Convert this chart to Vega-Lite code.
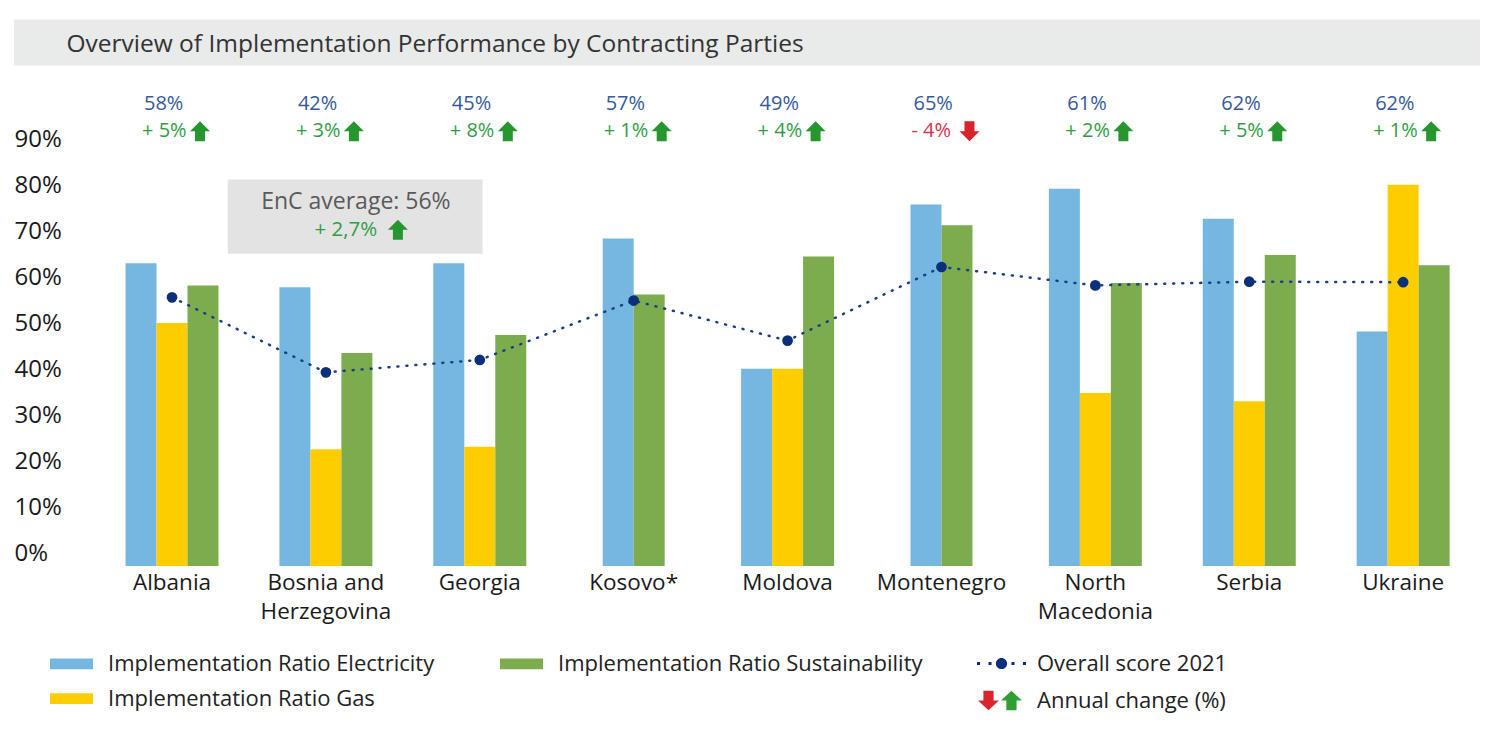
{
  "$schema": "https://vega.github.io/schema/vega-lite/v6.json",
  "width": 1466,
  "height": 414,
  "autosize": {"type": "none"},
  "padding": {"left": 14, "top": 152, "right": 24, "bottom": 168},
  "background": "white",
  "config": {
    "font": "Open Sans",
    "view": {"stroke": null},
    "text": {"font": "Open Sans"}
  },
  "datasets": {
    "bars": [
      {"country": "Albania", "series": "Implementation Ratio Electricity", "value": 65.8},
      {"country": "Albania", "series": "Implementation Ratio Gas", "value": 52.8},
      {"country": "Albania", "series": "Implementation Ratio Sustainability", "value": 61.0},
      {"country": "Bosnia and Herzegovina", "series": "Implementation Ratio Electricity", "value": 60.6},
      {"country": "Bosnia and Herzegovina", "series": "Implementation Ratio Gas", "value": 25.4},
      {"country": "Bosnia and Herzegovina", "series": "Implementation Ratio Sustainability", "value": 46.3},
      {"country": "Georgia", "series": "Implementation Ratio Electricity", "value": 65.8},
      {"country": "Georgia", "series": "Implementation Ratio Gas", "value": 25.9},
      {"country": "Georgia", "series": "Implementation Ratio Sustainability", "value": 50.2},
      {"country": "Kosovo*", "series": "Implementation Ratio Electricity", "value": 71.2},
      {"country": "Kosovo*", "series": "Implementation Ratio Sustainability", "value": 59.0},
      {"country": "Moldova", "series": "Implementation Ratio Electricity", "value": 42.9},
      {"country": "Moldova", "series": "Implementation Ratio Gas", "value": 42.9},
      {"country": "Moldova", "series": "Implementation Ratio Sustainability", "value": 67.3},
      {"country": "Montenegro", "series": "Implementation Ratio Electricity", "value": 78.6},
      {"country": "Montenegro", "series": "Implementation Ratio Sustainability", "value": 74.1},
      {"country": "North Macedonia", "series": "Implementation Ratio Electricity", "value": 82.0},
      {"country": "North Macedonia", "series": "Implementation Ratio Gas", "value": 37.6},
      {"country": "North Macedonia", "series": "Implementation Ratio Sustainability", "value": 61.5},
      {"country": "Serbia", "series": "Implementation Ratio Electricity", "value": 75.5},
      {"country": "Serbia", "series": "Implementation Ratio Gas", "value": 35.8},
      {"country": "Serbia", "series": "Implementation Ratio Sustainability", "value": 67.6},
      {"country": "Ukraine", "series": "Implementation Ratio Electricity", "value": 51.0},
      {"country": "Ukraine", "series": "Implementation Ratio Gas", "value": 82.9},
      {"country": "Ukraine", "series": "Implementation Ratio Sustainability", "value": 65.4}
    ],
    "scores": [
      {"country": "Albania", "score": 58.4, "label": 58, "change": 5},
      {"country": "Bosnia and Herzegovina", "score": 42.1, "label": 42, "change": 3},
      {"country": "Georgia", "score": 44.8, "label": 45, "change": 8},
      {"country": "Kosovo*", "score": 57.7, "label": 57, "change": 1},
      {"country": "Moldova", "score": 49.0, "label": 49, "change": 4},
      {"country": "Montenegro", "score": 65.0, "label": 65, "change": -4},
      {"country": "North Macedonia", "score": 61.0, "label": 61, "change": 2},
      {"country": "Serbia", "score": 61.8, "label": 62, "change": 5},
      {"country": "Ukraine", "score": 61.7, "label": 62, "change": 1}
    ],
    "average": [
      {"name": "EnC average", "score": 56, "change": 2.7}
    ],
    "legendItems": [
      {"kind": "Overall score 2021"},
      {"kind": "Annual change (%)"}
    ]
  },
  "layer": [
    {
      "data": {"values": [{"title": "Overview of Implementation Performance by Contracting Parties"}]},
      "mark": {"type": "rect", "color": "#e9eaea"},
      "encoding": {
        "x": {"value": 0},
        "x2": {"value": "width"},
        "y": {"datum": 108.8, "type": "quantitative"},
        "y2": {"datum": 118.8}
      }
    },
    {
      "data": {"values": [{"title": "Overview of Implementation Performance by Contracting Parties"}]},
      "mark": {"type": "text", "align": "left", "baseline": "middle", "dx": -59, "fontSize": 24.5, "color": "#333333"},
      "encoding": {
        "x": {"datum": "Albania", "bandPosition": 0},
        "y": {"datum": 113.2, "type": "quantitative"},
        "text": {"field": "title"}
      }
    },
    {
      "data": {"name": "bars"},
      "transform": [{"filter": "datum.country !== 'Kosovo*' && datum.country !== 'Montenegro'"}],
      "mark": {"type": "bar"},
      "encoding": {
        "x": {
          "field": "country", "type": "nominal", "title": null,
          "scale": {
            "domain": ["Albania", "Bosnia and Herzegovina", "Georgia", "Kosovo*", "Moldova", "Montenegro", "North Macedonia", "Serbia", "Ukraine"],
            "paddingInner": 0.396, "paddingOuter": 0.461, "align": 0.786
          },
          "axis": {
            "title": null, "domain": false, "ticks": false, "labelAngle": 0, "bandPosition": 0.5,
            "labelAlign": "center",
            "labelPadding": 5, "labelFontSize": 22.5, "labelFont": "Open Sans", "labelColor": "#1a1a1a",
            "labelBaseline": "top", "labelLineHeight": 29, "labelLimit": 300,
            "labelExpr": "datum.label === 'Bosnia and Herzegovina' ? ['Bosnia and', 'Herzegovina'] : datum.label === 'North Macedonia' ? ['North', 'Macedonia'] : datum.label"
          }
        },
        "xOffset": {
          "field": "series", "type": "nominal",
          "scale": {"domain": ["Implementation Ratio Electricity", "Implementation Ratio Gas", "Implementation Ratio Sustainability"], "paddingInner": 0, "paddingOuter": 0}
        },
        "y": {
          "field": "value", "type": "quantitative", "title": null,
          "scale": {"domain": [0, 90], "nice": false, "zero": true},
          "axis": {
            "title": null, "values": [0, 10, 20, 30, 40, 50, 60, 70, 80, 90],
            "labelExpr": "datum.value + '%'", "domain": false, "ticks": false, "tickSize": 0,
            "labelAlign": "left", "labelBaseline": "alphabetic", "labelPadding": 0, "labelOffset": -6,
            "labelFontSize": 24, "labelFont": "Open Sans", "labelColor": "#1a1a1a",
            "gridColor": "#d9d9d9", "gridWidth": 2, "labelOverlap": false
          }
        },
        "color": {
          "field": "series", "type": "nominal",
          "scale": {
            "domain": ["Implementation Ratio Electricity", "Implementation Ratio Sustainability", "Implementation Ratio Gas"],
            "range": ["#75b7e1", "#7dac4f", "#fecd00"]
          },
          "legend": {
            "title": null, "orient": "none", "legendX": 36, "legendY": 490, "columns": 2,
            "values": ["Implementation Ratio Electricity", "Implementation Ratio Gas", "Implementation Ratio Sustainability"],
            "columnPadding": 65, "rowPadding": 2, "padding": 0,
            "symbolType": "M-1,-0.25H1V0.25H-1Z", "symbolSize": 1849, "symbolStrokeWidth": 0,
            "labelFontSize": 22, "labelFont": "Open Sans", "labelColor": "#222222", "labelOffset": 15, "labelLimit": 500
          }
        }
      }
    },
    {
      "data": {"name": "bars"},
      "transform": [{"filter": "datum.country === 'Kosovo*' || datum.country === 'Montenegro'"}],
      "mark": {"type": "bar"},
      "encoding": {
        "x": {"field": "country", "type": "nominal", "title": null},
        "xOffset": {
          "field": "series", "type": "nominal",
          "scale": {"domain": ["Implementation Ratio Electricity", "Implementation Ratio Sustainability"], "paddingInner": 0, "paddingOuter": 0.5}
        },
        "y": {"field": "value", "type": "quantitative", "title": null},
        "color": {
          "field": "series", "type": "nominal",
          "scale": {
            "domain": ["Implementation Ratio Electricity", "Implementation Ratio Sustainability", "Implementation Ratio Gas"],
            "range": ["#75b7e1", "#7dac4f", "#fecd00"]
          }
        }
      }
    },
    {
      "data": {"name": "average"},
      "mark": {"type": "rect", "color": "#e3e3e3"},
      "encoding": {
        "x": {"datum": "Albania", "bandPosition": 1.1},
        "x2": {"datum": "Georgia", "bandPosition": 0.53},
        "y": {"datum": 67.9, "type": "quantitative"},
        "y2": {"datum": 84.0}
      }
    },
    {
      "data": {"name": "average"},
      "transform": [{"calculate": "datum.name + ': ' + datum.score + '%'", "as": "txt"}],
      "mark": {"type": "text", "align": "center", "baseline": "middle", "dx": 30, "fontSize": 23, "color": "#5a5a5a"},
      "encoding": {
        "x": {"datum": "Bosnia and Herzegovina"},
        "y": {"datum": 79.2, "type": "quantitative"},
        "text": {"field": "txt"}
      }
    },
    {
      "data": {"name": "average"},
      "transform": [{"calculate": "'+ ' + replace(format(datum.change, '.1f'), '.', ',') + '%'", "as": "txt"}],
      "mark": {"type": "text", "align": "center", "baseline": "middle", "dx": 20, "fontSize": 20.5, "color": "#2f9e45"},
      "encoding": {
        "x": {"datum": "Bosnia and Herzegovina"},
        "y": {"datum": 73.1, "type": "quantitative"},
        "text": {"field": "txt"}
      }
    },
    {
      "data": {"name": "average"},
      "mark": {"type": "point", "shape": "M6.7,1H7.7V0H8.2L7.2,-1L6.2,0H6.7Z", "filled": true, "size": 400, "color": "#27962e", "opacity": 1},
      "encoding": {
        "x": {"datum": "Bosnia and Herzegovina"},
        "y": {"datum": 73.1, "type": "quantitative"}
      }
    },
    {
      "data": {"name": "scores"},
      "mark": {"type": "line", "color": "#1b3f86", "strokeDash": [1, 8], "strokeWidth": 2.5, "strokeCap": "round"},
      "encoding": {
        "x": {"field": "country", "type": "nominal", "title": null},
        "y": {"field": "score", "type": "quantitative", "title": null}
      }
    },
    {
      "data": {"name": "scores"},
      "mark": {"type": "point", "filled": true, "size": 115, "color": "#0b2f7a", "opacity": 1},
      "encoding": {
        "x": {"field": "country", "type": "nominal", "title": null},
        "y": {"field": "score", "type": "quantitative", "title": null}
      }
    },
    {
      "data": {"name": "legendItems"},
      "transform": [{"filter": "false"}],
      "mark": {"type": "point", "filled": true, "opacity": 1},
      "encoding": {
        "x": {"datum": "Albania"},
        "y": {"datum": 50, "type": "quantitative"},
        "fill": {
          "field": "kind", "type": "nominal",
          "scale": {
            "domain": ["Overall score 2021", "Annual change (%)"],
            "range": ["#0b2f7a", {"expr": "{gradient: 'linear', x1: 0, y1: 0, x2: 1, y2: 0, stops: [{offset: 0, color: '#d8262c'}, {offset: 0.5, color: '#d8262c'}, {offset: 0.5, color: '#2f9e34'}, {offset: 1, color: '#2f9e34'}]}"}]
          },
          "legend": {
            "title": null, "orient": "none", "legendX": 962, "legendY": 486, "padding": 0,
            "symbolSize": 2601, "labelOffset": 10, "rowPadding": -3, "symbolStrokeWidth": 0, "symbolFillColor": "#0b2f7a",
            "labelFontSize": 22, "labelFont": "Open Sans", "labelColor": "#222222", "labelLimit": 400
          }
        },
        "shape": {
          "field": "kind", "type": "nominal",
          "scale": {
            "domain": ["Overall score 2021", "Annual change (%)"],
            "range": [
              "M-0.96,-0.06h0.12v0.12h-0.12Z M-0.51,-0.06h0.12v0.12h-0.12Z M0.39,-0.06h0.12v0.12h-0.12Z M0.84,-0.06h0.12v0.12h-0.12Z M-0.22,0A0.22,0.22,0,1,0,0.22,0A0.22,0.22,0,1,0,-0.22,0Z",
              "M-0.71,-0.38H-0.31V0H-0.1L-0.51,0.38L-0.92,0H-0.71Z M0.19,0.38H0.59V0H0.8L0.39,-0.38L-0.02,0H0.19Z"
            ]
          },
          "legend": {
            "title": null, "orient": "none", "legendX": 962, "legendY": 486, "padding": 0,
            "symbolSize": 2601, "labelOffset": 10, "rowPadding": -3, "symbolStrokeWidth": 0, "symbolFillColor": "#0b2f7a",
            "labelFontSize": 22, "labelFont": "Open Sans", "labelColor": "#222222", "labelLimit": 400
          }
        }
      }
    },
    {
      "data": {"name": "scores"},
      "transform": [{"calculate": "datum.label + '%'", "as": "txt"}],
      "mark": {"type": "text", "align": "left", "baseline": "middle", "dx": -28, "fontSize": 20, "color": "#35599a"},
      "encoding": {
        "x": {"field": "country", "type": "nominal", "title": null},
        "y": {"datum": 100.5, "type": "quantitative"},
        "text": {"field": "txt"}
      }
    },
    {
      "data": {"name": "scores"},
      "transform": [{"calculate": "(datum.change >= 0 ? '+ ' : '- ') + abs(datum.change) + '%'", "as": "txt"}],
      "mark": {"type": "text", "align": "left", "baseline": "middle", "dx": -30, "fontSize": 20},
      "encoding": {
        "x": {"field": "country", "type": "nominal", "title": null},
        "y": {"datum": 94.5, "type": "quantitative"},
        "text": {"field": "txt"},
        "color": {"condition": {"test": "datum.change < 0", "value": "#d6334f"}, "value": "#2f9e45"}
      }
    },
    {
      "data": {"name": "scores"},
      "transform": [{"filter": "datum.change >= 0"}],
      "mark": {"type": "point", "shape": "M2.3,1H3.3V0H3.8L2.8,-1L1.8,0H2.3Z", "filled": true, "size": 400, "color": "#27962e", "opacity": 1},
      "encoding": {
        "x": {"field": "country", "type": "nominal", "title": null},
        "y": {"datum": 94.5, "type": "quantitative"}
      }
    },
    {
      "data": {"name": "scores"},
      "transform": [{"filter": "datum.change < 0"}],
      "mark": {"type": "point", "shape": "M2.3,-1H3.3V0H3.8L2.8,1L1.8,0H2.3Z", "filled": true, "size": 400, "color": "#d6242a", "opacity": 1},
      "encoding": {
        "x": {"field": "country", "type": "nominal", "title": null},
        "y": {"datum": 94.5, "type": "quantitative"}
      }
    }
  ],
  "resolve": {"scale": {"xOffset": "independent"}}
}
